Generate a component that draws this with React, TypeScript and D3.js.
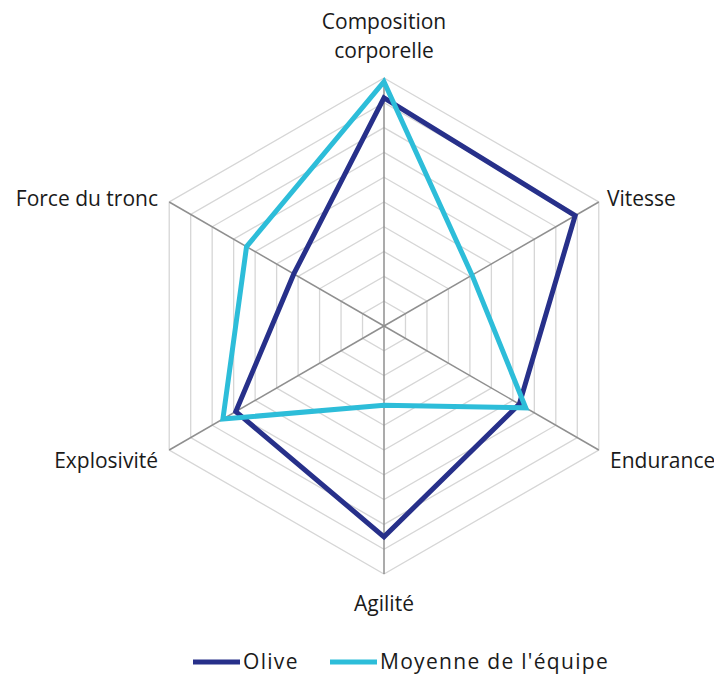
import React, { useEffect, useRef } from "react";
import * as d3 from "d3";

const axes = [
  "Composition corporelle",
  "Vitesse",
  "Endurance",
  "Agilité",
  "Explosivité",
  "Force du tronc",
];
const oliveValues = [9.2, 8.9, 6.3, 8.5, 6.9, 4.2];
const teamValues = [9.85, 4.1, 6.6, 3.2, 7.5, 6.4];
const seriesNames = ["Olive", "Moyenne de l'équipe"];
const seriesColors = ["#27308a", "#2dbdd9"];
const maxValue = 10;
const ringCount = 10;

const App = () => {
  const svgRef = useRef<SVGSVGElement>(null);

  useEffect(() => {
    const svg = d3.select(svgRef.current);
    svg.selectAll("*").remove();

    const width = 714;
    const height = 677;
    const cx = 384;
    const cy = 326;
    const radius = 248;

    const r = d3.scaleLinear().domain([0, maxValue]).range([0, radius]);
    const angle = d3
      .scaleLinear()
      .domain([0, axes.length])
      .range([0, 2 * Math.PI]);

    const g = svg.append("g").attr("transform", `translate(${cx},${cy})`);

    // rings
    const ringLine = d3
      .lineRadial<number>()
      .angle((d, i) => angle(i))
      .radius((d) => r(d))
      .curve(d3.curveLinearClosed);

    d3.range(1, ringCount + 1).forEach((k) => {
      g.append("path")
        .attr("d", ringLine(axes.map(() => (k * maxValue) / ringCount)))
        .attr("fill", "none")
        .attr("stroke", "#d6d6d6")
        .attr("stroke-width", 1.3);
    });

    // spokes
    axes.forEach((a, i) => {
      const t = angle(i);
      g.append("line")
        .attr("x1", 0)
        .attr("y1", 0)
        .attr("x2", r(maxValue) * Math.sin(t))
        .attr("y2", -r(maxValue) * Math.cos(t))
        .attr("stroke", "#8f8f8f")
        .attr("stroke-width", 1.5);
    });

    // series
    [oliveValues, teamValues].forEach((vals, s) => {
      g.append("path")
        .attr("d", ringLine(vals))
        .attr("fill", "none")
        .attr("stroke", seriesColors[s])
        .attr("stroke-width", 5)
        .attr("stroke-linejoin", "miter");
    });

    // axis labels
    const font = "'Open Sans', sans-serif";
    const fontSize = "21px";
    const labelPos = [
      { x: 0, y: -297, anchor: "middle" },
      { x: 223, y: -120, anchor: "start" },
      { x: 226, y: 142, anchor: "start" },
      { x: 0, y: 285, anchor: "middle" },
      { x: -226, y: 142, anchor: "end" },
      { x: -226, y: -120, anchor: "end" },
    ];
    axes.forEach((a, i) => {
      const p = labelPos[i];
      const txt = g
        .append("text")
        .attr("x", p.x)
        .attr("y", p.y)
        .attr("text-anchor", p.anchor)
        .style("font-family", font)
        .style("font-size", fontSize)
        .attr("fill", "#1a1a1a");
      if (i === 0) {
        txt.append("tspan").attr("x", p.x).text("Composition");
        txt.append("tspan").attr("x", p.x).attr("dy", 29).text("corporelle");
      } else {
        txt.text(a);
      }
    });

    // legend
    const legendItems = [
      { x: 193, tx: 243 },
      { x: 330, tx: 380 },
    ];
    const legendY = 662;
    seriesNames.forEach((name, s) => {
      const it = legendItems[s];
      svg
        .append("line")
        .attr("x1", it.x)
        .attr("x2", it.x + 47)
        .attr("y1", legendY)
        .attr("y2", legendY)
        .attr("stroke", seriesColors[s])
        .attr("stroke-width", 5);
      svg
        .append("text")
        .attr("x", it.tx)
        .attr("y", legendY + 7)
        .style("font-family", font)
        .style("font-size", fontSize)
        .style("letter-spacing", "1.3px")
        .attr("fill", "#1a1a1a")
        .text(name);
    });

    svg.attr("width", width).attr("height", height);
  }, []);

  return (
    <svg
      ref={svgRef}
      width={714}
      height={677}
      style={{ position: "absolute", left: 0, top: 0, background: "#fff" }}
    ></svg>
  );
};

export default App;
